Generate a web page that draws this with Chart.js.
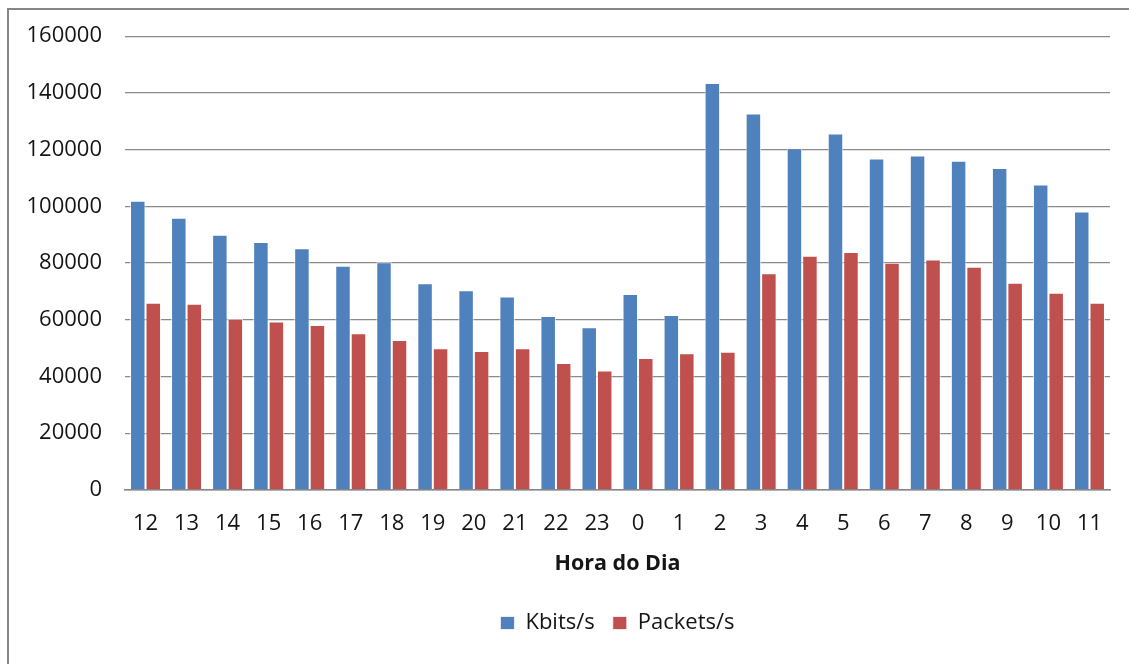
<!DOCTYPE html>
<html>
<head>
<meta charset="utf-8">
<script src="https://cdn.jsdelivr.net/npm/chart.js@4"></script>
<style>
  html, body { margin: 0; padding: 0; background: #fff; }
  #wrap { position: relative; width: 1129px; height: 664px; }
</style>
</head>
<body>
<div id="wrap"><canvas id="c" width="1129" height="664"></canvas></div>
<script>
// Hourly traffic, starting at noon
const hours = ['12','13','14','15','16','17','18','19','20','21','22','23','0','1','2','3','4','5','6','7','8','9','10','11'];
const kbits = [102000, 96000, 90000, 87400, 85200, 79000, 80300, 72900, 70400, 68200, 61300, 57300,
               69100, 61700, 143500, 132700, 120500, 125700, 116900, 117900, 116100, 113500, 107700, 98200];
const packets = [66000, 65600, 60300, 59400, 58100, 55200, 52800, 49900, 49000, 49900, 44700, 42100,
                 46500, 48200, 48700, 76400, 82600, 83900, 80100, 81200, 78700, 73000, 69500, 66000];
const yTicks = [0, 20000, 40000, 60000, 80000, 100000, 120000, 140000, 160000];

const FONT = '"Open Sans", "Liberation Sans", sans-serif';
const TEXT = '#151515';

// Gray frame along the top and left edges of the chart object
const framePlugin = {
  id: 'frame',
  beforeDraw(chart) {
    const ctx = chart.ctx;
    ctx.save();
    ctx.strokeStyle = '#868686';
    ctx.lineWidth = 2;
    ctx.beginPath();
    ctx.moveTo(8, chart.height);
    ctx.lineTo(8, 9);
    ctx.lineTo(chart.width, 9);
    ctx.stroke();
    ctx.restore();
  }
};

// Center the legend under the plot area instead of the whole canvas
const legendCenterPlugin = {
  id: 'legendCenter',
  afterLayout(chart) {
    const lg = chart.legend;
    if (!lg) return;
    const area = chart.chartArea;
    const shift = (area.left + area.right) / 2 - (lg.left + lg.right) / 2;
    lg.left += shift;
    lg.right += shift;
  }
};

new Chart(document.getElementById('c'), {
  type: 'bar',
  data: {
    labels: hours,
    datasets: [
      { label: 'Kbits/s', data: kbits, backgroundColor: '#4F81BD',
        borderColor: 'rgba(255,255,255,0.75)', borderWidth: 1, borderSkipped: 'bottom' },
      { label: 'Packets/s', data: packets, backgroundColor: '#C0504D',
        borderColor: 'rgba(255,255,255,0.75)', borderWidth: 1, borderSkipped: 'bottom' }
    ]
  },
  options: {
    responsive: false,
    devicePixelRatio: 1,
    animation: false,
    layout: { padding: { left: 0, right: 19, top: 27.5, bottom: 20 } },
    datasets: { bar: { categoryPercentage: 0.755, barPercentage: 1.0 } },
    scales: {
      x: {
        grid: { display: false, drawTicks: false },
        border: { display: true, color: '#868686', width: 1.5 },
        ticks: { color: TEXT, font: { family: FONT, size: 22 }, padding: 20.5, maxRotation: 0, autoSkip: false },
        title: { display: true, text: 'Hora do Dia', color: TEXT,
                 font: { family: FONT, size: 21.5, weight: 'bold' }, padding: { top: -6, bottom: 17 } }
      },
      y: {
        min: 0, max: 160000,
        afterBuildTicks(scale) { scale.ticks = yTicks.map(v => ({ value: v })); },
        afterFit(scale) { scale.width = 125; },
        grid: { color: '#8a8a8a', lineWidth: 1.2, drawTicks: false },
        border: { display: false },
        ticks: { color: TEXT, font: { family: FONT, size: 22 }, padding: 23,
                 callback: v => String(v) }
      }
    },
    plugins: {
      legend: {
        position: 'bottom',
        labels: { color: TEXT, font: { family: FONT, size: 22 }, boxWidth: 14, boxHeight: 13, padding: 18 }
      },
      tooltip: { enabled: false }
    }
  },
  plugins: [framePlugin, legendCenterPlugin]
});
</script>
</body>
</html>
